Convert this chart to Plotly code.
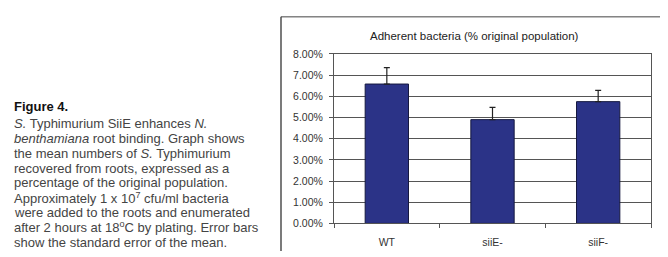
import plotly.graph_objects as go

# The page body has an 8px default margin: compensate so that reference
# pixel positions map onto the screenshot.
OFF = 8
W, H = 668 - OFF, 257 - OFF

categories = ["WT", "siiE-", "siiF-"]
values = [6.58, 4.90, 5.75]
errors_up = [0.78, 0.58, 0.53]
ytick_vals = [0, 1, 2, 3, 4, 5, 6, 7, 8]
ytick_text = ["0.00%", "1.00%", "2.00%", "3.00%", "4.00%", "5.00%",
              "6.00%", "7.00%", "8.00%"]
chart_title = "Adherent bacteria (% original population)"
caption_head = "Figure 4."
caption_lines = [
    "<i>S.</i> Typhimurium SiiE enhances <i>N.</i>",
    "<i>benthamiana</i> root binding. Graph shows",
    "the mean numbers of <i>S.</i> Typhimurium",
    "recovered from roots, expressed as a",
    "percentage of the original population.",
    "Approximately 1 x 10<sup>7</sup> cfu/ml bacteria",
    "were added to the roots and enumerated",
    "after 2 hours at 18<sup>o</sup>C by plating. Error bars",
    "show the standard error of the mean.",
]


def px(x):
    return (x - OFF) / W


def py(y):
    return 1 - (y - OFF) / H


FONT = "Liberation Sans, Arial, Helvetica, sans-serif"

fig = go.Figure()
fig.add_trace(go.Bar(
    x=categories,
    y=values,
    marker=dict(color="#2B3387", line=dict(color="#15183f", width=1)),
    error_y=dict(type="data", symmetric=False, array=errors_up,
                 arrayminus=[0] * len(errors_up),
                 color="#222222", thickness=1.2, width=3),
    width=0.41,
))

fig.update_layout(
    width=W, height=H,
    margin=dict(l=0, r=0, t=0, b=0, pad=0),
    paper_bgcolor="white",
    plot_bgcolor="white",
    showlegend=False,
    font=dict(family=FONT, color="#333333"),
    xaxis=dict(
        domain=[px(334), px(651)],
        anchor="y",
        showgrid=False,
        showline=True, linecolor="#555555", linewidth=1,
        mirror=True,
        ticks="outside", ticklen=4, tickcolor="#555555",
        tickson="boundaries",
        ticklabelstandoff=9,
        tickfont=dict(size=10.5, color="#333333"),
    ),
    yaxis=dict(
        domain=[py(228), py(50)],
        anchor="x",
        range=[0, 8],
        tickvals=ytick_vals,
        ticktext=ytick_text,
        showgrid=True, gridcolor="#555555", gridwidth=1,
        zeroline=False,
        showline=True, linecolor="#555555", linewidth=1,
        mirror=True,
        ticks="outside", ticklen=4, tickcolor="#555555",
        ticklabelstandoff=4,
        tickfont=dict(size=10.5, color="#333333"),
    ),
)

# outer chart frame
fig.add_shape(type="line", xref="paper", yref="paper",
              x0=px(281), x1=px(281), y0=py(11), y1=0,
              line=dict(color="#222222", width=1.2))
fig.add_shape(type="line", xref="paper", yref="paper",
              x0=px(281), x1=px(661), y0=py(11), y1=py(11),
              line=dict(color="#444444", width=1))
fig.add_shape(type="line", xref="paper", yref="paper",
              x0=px(661), x1=px(661), y0=py(11), y1=0,
              line=dict(color="#bbbbbb", width=1))

# chart title
fig.add_annotation(x=px(474), y=py(31), xref="paper", yref="paper",
                   text=chart_title, showarrow=False,
                   xanchor="center", yanchor="middle",
                   font=dict(size=11.5, color="#222222", family=FONT))

# caption
fig.add_annotation(x=px(12), y=py(105), xref="paper", yref="paper",
                   text="<b>" + caption_head + "</b>", showarrow=False,
                   xanchor="left", yanchor="middle",
                   font=dict(size=13, color="#111111", family=FONT))
for i, line in enumerate(caption_lines):
    fig.add_annotation(x=px(12), y=py(123 + i * 15.6), xref="paper", yref="paper",
                       text=line, showarrow=False,
                       xanchor="left", yanchor="middle",
                       font=dict(size=13, color="#444444", family=FONT))

fig.write_html("out.html")
